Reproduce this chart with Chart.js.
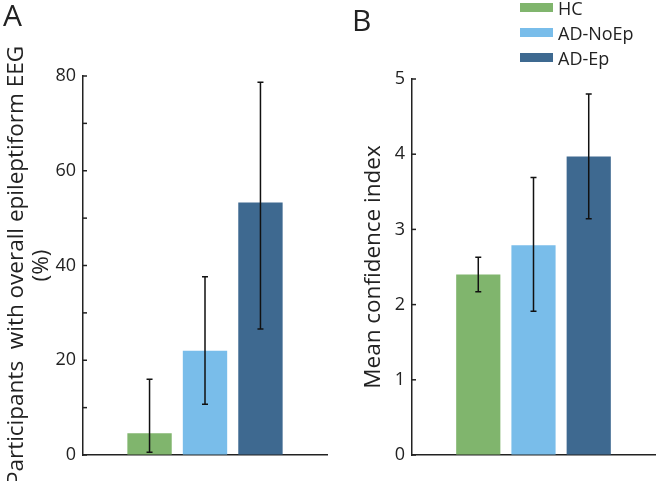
<!DOCTYPE html>
<html>
<head>
<meta charset="utf-8">
<script src="https://cdn.jsdelivr.net/npm/chart.js@4"></script>
<style>
    body { margin: 0; background: #fff; font-family: "Open Sans", sans-serif; color: #222; }
    .painel { position: absolute; top: 0; width: 329px; height: 481px; }
    .letra { position: absolute; font-size: 30px; line-height: 30px; }
    #legenda { position: absolute; left: 520px; top: -5px; font-size: 18px; }
    #legenda div { display: flex; align-items: center; height: 25px; }
    #legenda span.cor { display: inline-block; width: 33px; height: 9px; margin-right: 5px; }
</style>
</head>
<body>
<div class="painel" style="left:0"><canvas id="chartA"></canvas></div>
<div class="painel" style="left:329px"><canvas id="chartB"></canvas></div>
<div class="letra" style="left:3px; top:0px">A</div>
<div class="letra" style="left:352px; top:5px">B</div>
<div id="legenda"></div>
<script>

// Grupos e cores
var grupos = ["HC", "AD-NoEp", "AD-Ep"];
var cores = ["#80b56d", "#79bdea", "#3e6990"];

// Painel A: % de participantes com EEG epileptiforme (com intervalo)
var percentual = [4.6, 22.0, 53.3];
var percentualMin = [0.6, 10.7, 26.6];
var percentualMax = [16.0, 37.6, 78.7];

// Painel B: índice médio de confiança (com intervalo)
var confianca = [2.4, 2.79, 3.97];
var confiancaMin = [2.17, 1.91, 3.14];
var confiancaMax = [2.63, 3.69, 4.8];

var corEixo = "#222";

// Desenha as barras de erro usando as escalas do gráfico
var pluginErro = {
    id: "barrasErro",
    afterDatasetsDraw: function (chart) {
        var ctx = chart.ctx;
        var meta = chart.getDatasetMeta(0);
        var escalaY = chart.scales.y;
        var baixo = chart.config.options.erro.min;
        var alto = chart.config.options.erro.max;
        ctx.save();
        ctx.strokeStyle = "#111";
        ctx.lineWidth = 1.5;
        for (var i = 0; i < meta.data.length; i++) {
            var x = meta.data[i].x;
            var y1 = escalaY.getPixelForValue(baixo[i]);
            var y2 = escalaY.getPixelForValue(alto[i]);
            ctx.beginPath();
            ctx.moveTo(x, y1); ctx.lineTo(x, y2);
            ctx.moveTo(x - 3, y1); ctx.lineTo(x + 3, y1);
            ctx.moveTo(x - 3, y2); ctx.lineTo(x + 3, y2);
            ctx.stroke();
        }
        ctx.restore();
    }
};

// Marcas do eixo y para dentro (estilo MATLAB)
var pluginMarcas = {
    id: "marcasDentro",
    afterDraw: function (chart) {
        var ctx = chart.ctx;
        var escalaY = chart.scales.y;
        var esq = chart.chartArea.left;
        ctx.save();
        ctx.strokeStyle = corEixo;
        ctx.lineWidth = 1.5;
        escalaY.ticks.forEach(function (t) {
            var y = escalaY.getPixelForValue(t.value);
            ctx.beginPath();
            ctx.moveTo(esq, y);
            ctx.lineTo(esq + 4, y);
            ctx.stroke();
        });
        ctx.restore();
    }
};

function montaConfig(valores, minimos, maximos, yMax, passo, titulo, tituloPad, padding, rotulo) {
    return {
        type: "bar",
        data: {
            datasets: [
                {
                    label: "valores",
                    data: grupos.map(function (g, i) { return { x: i + 1, y: valores[i] }; }),
                    backgroundColor: cores,
                    categoryPercentage: 1,
                    barPercentage: 0.8
                }
            ]
        },
        options: {
            responsive: true,
            maintainAspectRatio: false,
            animation: false,
            erro: { min: minimos, max: maximos },
            layout: { padding: padding },
            plugins: {
                legend: { display: false },
                tooltip: { enabled: false }
            },
            scales: {
                x: {
                    type: "linear",
                    offset: false,
                    min: -0.2,
                    max: 4.2,
                    ticks: { display: false },
                    grid: { display: true, offset: false, drawOnChartArea: false, drawTicks: false },
                    border: { color: corEixo, width: 1.5 },
                    afterFit: function (s) { s.height = 0; }
                },
                y: {
                    min: 0,
                    max: yMax,
                    ticks: {
                        stepSize: passo,
                        padding: 7,
                        color: "#222",
                        font: { family: "Open Sans", size: 18 },
                        callback: rotulo
                    },
                    grid: { display: true, drawOnChartArea: false, drawTicks: false },
                    border: { color: corEixo, width: 1.5 },
                    title: {
                        display: true,
                        text: titulo,
                        color: "#222",
                        font: { family: "Open Sans", size: 22.5, lineHeight: 1.1 },
                        padding: { top: tituloPad, bottom: 0 }
                    },
                    afterFit: function (s) { s.width = 83; }
                }
            }
        },
        plugins: [pluginErro, pluginMarcas]
    };
}

var configA = montaConfig(percentual, percentualMin, percentualMax, 80, 10,
    ["Participants  with overall epileptiform EEG", "(%)"], 4,
    { top: 76, right: 2, bottom: 26, left: 0 },
    function (v) { return v % 20 === 0 ? v : ""; });

var configB = montaConfig(confianca, confiancaMin, confiancaMax, 5, 1,
    "Mean confidence index", 32,
    { top: 79, right: 3, bottom: 26, left: 0 },
    function (v) { return v; });

new Chart(document.getElementById("chartA"), configA);
new Chart(document.getElementById("chartB"), configB);

// Legenda em HTML
var legenda = document.getElementById("legenda");
grupos.forEach(function (g, i) {
    var linha = document.createElement("div");
    linha.innerHTML = '<span class="cor" style="background:' + cores[i] + '"></span>' + g;
    legenda.appendChild(linha);
});
</script>
</body>
</html>
